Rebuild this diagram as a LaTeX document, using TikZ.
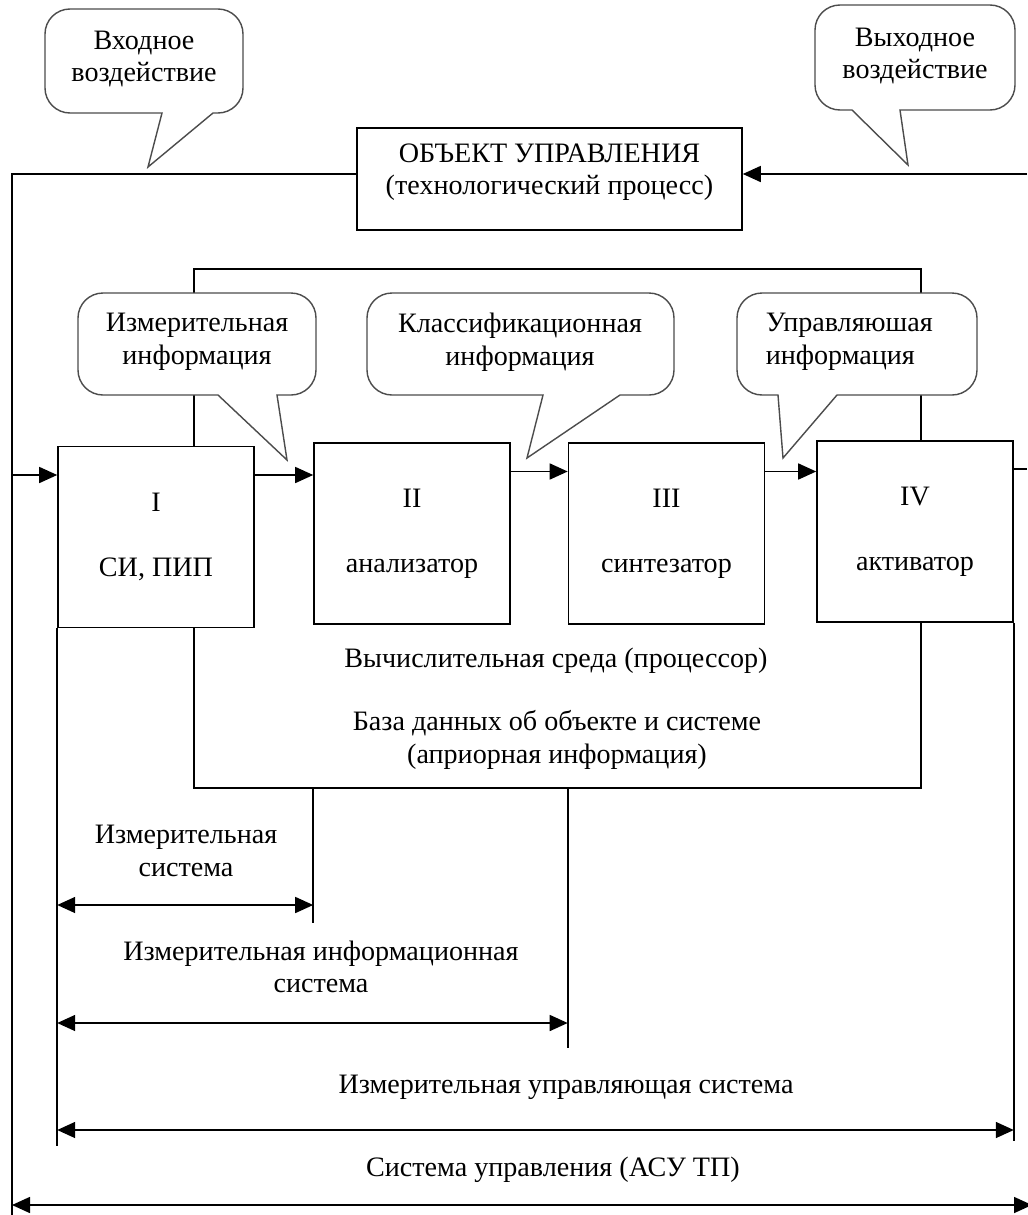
\documentclass[tikz,border=0pt]{standalone}
\usepackage{fontspec}
\setmainfont{Liberation Serif}
\usetikzlibrary{arrows.meta, positioning}

\begin{document}
\begin{tikzpicture}[x=0.2mm, y=-0.2mm, line width=0.9pt,
    font=\fontsize{16}{18.5}\selectfont,
    block/.style={draw, fill=white, minimum width=39.2mm, minimum height=36.2mm, align=center, inner sep=0pt},
    bubble/.style={draw=black!70, fill=white, line width=0.8pt},
    arr/.style={-{Triangle[length=3.6mm,width=3.2mm]}},
    dim/.style={{Triangle[length=3.6mm,width=3.2mm]}-{Triangle[length=3.6mm,width=3.2mm]}},
    txt/.style={align=center, inner sep=0pt}]
  \useasboundingbox (0,0) rectangle (1027,1215);

  % computing environment
  \node[draw, minimum width=145.4mm, minimum height=103.8mm] (cpu) at (557.5,528.5) {};
  \node[txt] (tcpu) at (556,661) {Вычислительная среда (процессор)};
  \node[txt] (tdb) at (557,740) {База данных об объекте и системе\\(априорная информация)};

  % object of control
  \node[draw, minimum width=77mm, minimum height=20.4mm] (obj) at (549.5,179) {};
  \node[txt] (objtxt) at (549.5,172) {ОБЪЕКТ УПРАВЛЕНИЯ\\(технологический процесс)};

  % blocks I..IV
  \node[block] (si) at (156,537) {I\\[6.5mm]СИ, ПИП};
  \node[block] (an) at (412,533.5) {II\\[6.5mm]анализатор};
  \node[block] (syn) at (666.5,533.5) {III\\[6.5mm]синтезатор};
  \node[block] (act) at (915,531.5) {IV\\[6.5mm]активатор};

  \coordinate (nw) at (12,174);
  \coordinate (sw) at (12,1215);
  \coordinate (ne) at (1027,174);
  \coordinate (inL) at (12,475);
  \coordinate (outR) at (1027,469);
  \coordinate (a1) at ([yshift=12.4mm]si.east);
  \coordinate (a2) at ([yshift=12.4mm]an.east);
  \coordinate (a3) at ([yshift=12.4mm]syn.east);

  \draw (obj.west |- nw) -- (nw) -- (sw);
  \draw[arr] (ne) -- (obj.east |- ne);
  \draw[arr] (inL) -- (si.west |- inL);
  \draw[arr] (a1) -- (a1 -| an.west);
  \draw[arr] (a2) -- (a2 -| syn.west);
  \draw[arr] (a3) -- (a3 -| act.west);
  \draw (act.east |- outR) -- (outR);

  \draw (an.west |- cpu.south) -- ++(0,134);
  \draw (syn.west |- cpu.south) -- ++(0,259);
  \draw (si.south west) -- ++(0,518);
  \draw (act.south east) -- ++(0,518);

  % system extents
  \coordinate (d1) at (0,905);
  \coordinate (d2) at (0,1023);
  \coordinate (d3) at (0,1130);
  \coordinate (d4) at (0,1205);
  \coordinate (se) at (1032,1205);
  \draw[dim] (si.west |- d1) -- (an.west |- d1);
  \draw[dim] (si.west |- d2) -- (syn.west |- d2);
  \draw[dim] (si.west |- d3) -- (act.east |- d3);
  \draw[dim] (nw |- d4) -- (se);
  \node[txt] (tms) at (186,851) {Измерительная\\система};
  \node[txt] (tmis) at (321,967) {Измерительная информационная\\система};
  \node[txt] (tmus) at (566,1087) {Измерительная управляющая система};
  \node[txt] (tsys) at (553,1170) {Система управления (АСУ ТП)};

  % callouts
  \draw[bubble, rounded corners=5mm] (100,113) -- (45,113) -- (45,9) -- (243,9) -- (243,113) [sharp corners] -- (213,113) -- (148,167) -- (162,113) -- cycle;
  \node[txt] (tin) at (144,59) {Входное\\воздействие};
  \draw[bubble, rounded corners=5mm] (950,110) -- (1015,110) -- (1015,5) -- (815,5) -- (815,110) [sharp corners] -- (852,110) -- (908,165) -- (900,110) -- cycle;
  \node[txt] (tout) at (915,56) {Выходное\\воздействие};
  \draw[bubble, rounded corners=5mm] (140,395) -- (78,395) -- (78,293) -- (316,293) -- (316,395) [sharp corners] -- (277,395) -- (287,460) -- (218,395) -- cycle;
  \node[txt] (tmeas) at (197,342) {Измерительная\\информация};
  \draw[bubble, rounded corners=5mm] (450,395) -- (367,395) -- (367,293) -- (674,293) -- (674,395) [sharp corners] -- (620,395) -- (527,458) -- (543,395) -- cycle;
  \node[txt] (tclass) at (520,342) {Классификационная\\информация};
  \draw[bubble, rounded corners=5mm] (900,395) -- (977,395) -- (977,293) -- (737,293) -- (737,395) [sharp corners] -- (778,395) -- (783,458) -- (837,395) -- cycle;
  \node[txt, align=left, anchor=west] (tctrl) at (765,342) {Управляюшая\\информация};
\end{tikzpicture}
\end{document}
